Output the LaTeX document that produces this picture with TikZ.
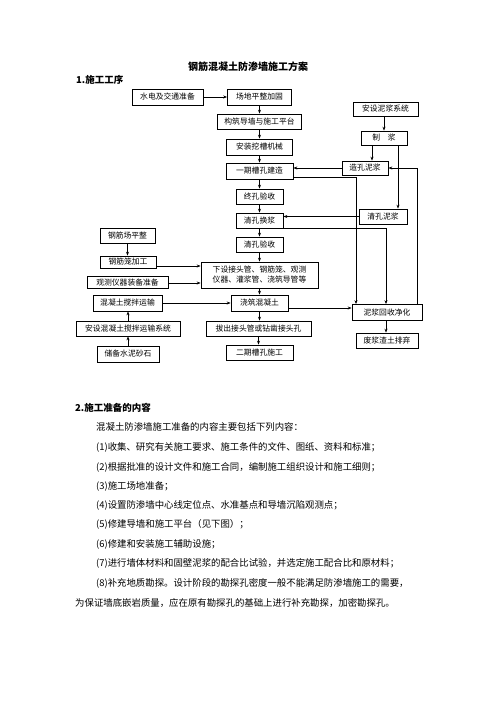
\documentclass[tikz,border=0pt]{standalone}
\usepackage{fontspec}
\setmainfont{Noto Sans CJK SC}
\usetikzlibrary{arrows.meta}
\begin{document}
\begin{tikzpicture}[x=1pt,y=-1pt,
  box/.style={draw, line width=0.7pt, inner sep=0pt, font=\fontsize{7.8}{10}\selectfont, align=center},
  arr/.style={-{Stealth[length=4pt,width=3pt]}, line width=0.7pt},
  ln/.style={line width=0.7pt},
  body/.style={anchor=west, inner sep=0pt, font=\fontsize{9.4}{11}\selectfont},
  head/.style={anchor=west, inner sep=0pt, font=\fontsize{9.5}{11}\selectfont\bfseries}]
\useasboundingbox (0,0) rectangle (496,702);
\newcommand\bx[6]{\node[box, minimum width=#4pt, minimum height=#5pt] (#1) at (#2,#3) {#6};}
% title
\node[inner sep=0pt, font=\fontsize{10}{12}\selectfont\bfseries] (title) at (248,67) {钢筋混凝土防渗墙施工方案};
\node[head] (h1) at (76,80) {1.施工工序};
% main column
\bx{sd}{167.5}{97}{71}{16}{水电及交通准备}
\bx{cd}{259.5}{97}{64}{16}{场地平整加固}
\bx{gz}{259.5}{121.5}{84}{15}{构筑导墙与施工平台}
\bx{az}{259.5}{147}{66}{16}{安装挖槽机械}
\bx{yq}{259.5}{171}{67}{16}{一期槽孔建造}
\bx{zk}{259.5}{196.5}{47}{15}{终孔验收}
\bx{qh}{259.5}{220.5}{47}{15}{清孔换浆}
\bx{qy}{259.5}{244.5}{47}{15}{清孔验收}
\bx{xs}{259.5}{275}{117}{26}{下设接头管、钢筋笼、观测\\仪器、灌浆管、浇筑导管等}
\bx{jz}{259.5}{303}{57}{16}{浇筑混凝土}
\bx{bc}{258.5}{328.5}{105}{15}{拔出接头管或钻凿接头孔}
\bx{eq}{259.5}{352.5}{67}{15}{二期槽孔施工}
% left column
\bx{gjp}{127.5}{235.5}{55}{15}{钢筋场平整}
\bx{gjl}{128}{262}{56}{12}{钢筋笼加工}
\bx{gcy}{127.5}{282.5}{81}{12}{观测仪器装备准备}
\bx{hnt}{127.5}{303}{69}{16}{混凝土搅拌运输}
\bx{asx}{128}{328.5}{104}{15}{安设混凝土搅拌运输系统}
\bx{cb}{128}{354}{62}{16}{储备水泥砂石}
% right column
\bx{anx}{385.5}{109}{65}{14}{安设泥浆系统}
\bx{zj}{384}{138}{46}{14}{制\quad 浆}
\bx{zkn}{365}{168}{46}{14}{造孔泥浆}
\bx{qkn}{383}{216.5}{48}{15}{清孔泥浆}
\bx{hs}{387}{312.5}{70}{16}{泥浆回收净化}
\bx{fj}{387}{340.5}{62}{15}{废浆渣土排弃}
% helper coordinates
\coordinate (c356) at (356,0);
\coordinate (c372) at (372,0);
\coordinate (c386) at (386,0);
\coordinate (c398) at (398,0);
\coordinate (c417) at (417,0);
\coordinate (r177) at (0,177);
\coordinate (r228) at (0,228);
\coordinate (r266) at (0,266);
\coordinate (r283) at (0,283);
\coordinate (r308) at (0,308);
% main column arrows
\draw[arr] (sd.east) -- (cd.west);
\foreach \a/\b in {cd/gz, gz/az, az/yq, yq/zk, zk/qh, qh/qy, qy/xs, xs/jz, jz/bc, bc/eq}
  \draw[arr] (\a.south) -- (\a.south |- \b.north);
% left column arrows
\draw[arr] (gjp.south) -- (gjp.south |- gjl.north);
\draw[arr] (gjl.east |- r266) -- (xs.west |- r266);
\draw[arr] (gcy.east |- r283) -- (xs.west |- r283);
\draw[arr] (hnt.east) -- (hnt.east -| jz.west);
\draw[arr] (asx.north) -- (asx.north |- hnt.south);
\draw[arr] (cb.north) -- (cb.north |- asx.south);
% right column arrows
\draw[arr] (anx.south -| zj.north) -- (zj.north);
\draw[arr] (zj.south -| c372) -- (zkn.north -| c372);
\draw[arr] (zj.south -| c398) -- (qkn.north -| c398);
\draw[arr] (zkn.west) -- (zkn.west -| yq.east);
\draw[arr] (qkn.west) -- (qkn.west -| qh.east);
\draw[arr] (hs.north -| c417) |- (zkn.east);
\draw[arr] (yq.east |- r177) -| (hs.north -| c356);
\draw[arr] (qh.east |- r228) -| (hs.north -| c386);
\draw[arr] (jz.east |- r308) -- (hs.west |- r308);
\draw[arr] (hs.south -| c386) -- (fj.north -| c386);
% text
\node[head] (h2) at (75,408) {2.施工准备的内容};
\node[body] (t0) at (96,427) {混凝土防渗墙施工准备的内容主要包括下列内容：};
\node[body] (t1) at (96,447) {(1)收集、研究有关施工要求、施工条件的文件、图纸、资料和标准；};
\node[body] (t2) at (96,467) {(2)根据批准的设计文件和施工合同，编制施工组织设计和施工细则；};
\node[body] (t3) at (96,486) {(3)施工场地准备；};
\node[body] (t4) at (96,505) {(4)设置防渗墙中心线定位点、水准基点和导墙沉陷观测点；};
\node[body] (t5) at (96,524) {(5)修建导墙和施工平台（见下图）；};
\node[body] (t6) at (96,544) {(6)修建和安装施工辅助设施；};
\node[body] (t7) at (96,563) {(7)进行墙体材料和固壁泥浆的配合比试验，并选定施工配合比和原材料；};
\node[body] (t8) at (96,583) {(8)补充地质勘探。设计阶段的勘探孔密度一般不能满足防渗墙施工的需要，};
\node[body] (t9) at (75,603) {为保证墙底嵌岩质量，应在原有勘探孔的基础上进行补充勘探，加密勘探孔。};
\end{tikzpicture}
\end{document}
